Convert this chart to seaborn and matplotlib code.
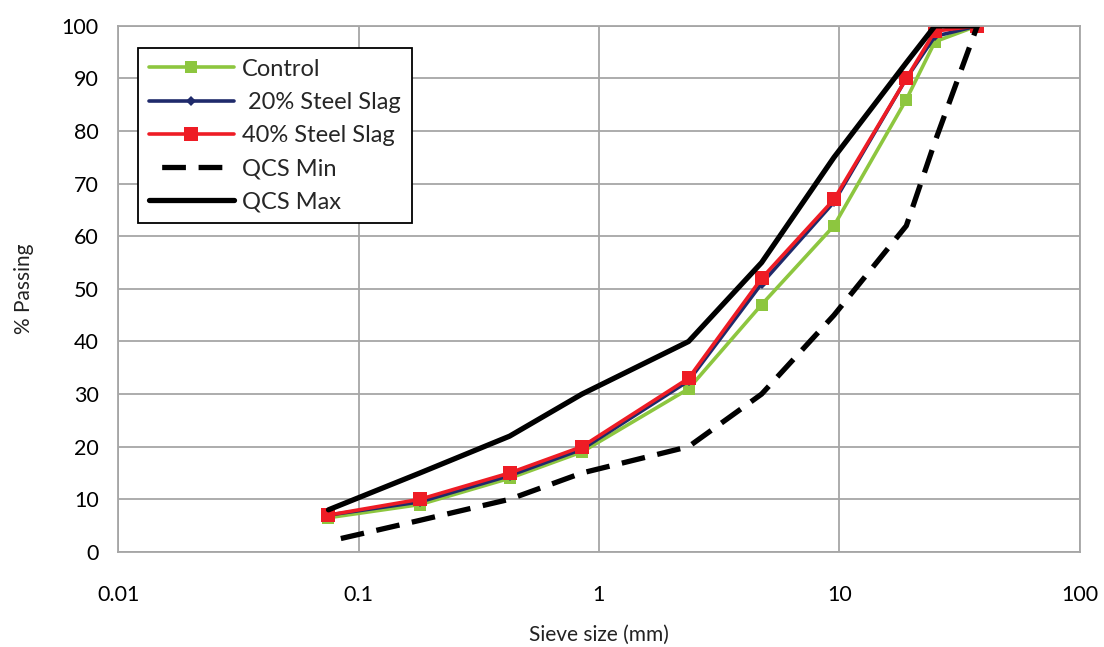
import matplotlib
matplotlib.use("Agg")
import matplotlib.pyplot as plt
import matplotlib.ticker as mticker
import seaborn as sns
import pandas as pd

# Sieve sizes (mm) and percent passing for each gradation
sieve_mm = [0.075, 0.18, 0.425, 0.85, 2.36, 4.75, 9.5, 19, 25, 37.5]
control = [6.5, 9, 14, 19, 31, 47, 62, 86, 97, 100]
slag_20 = [7, 9.5, 14.5, 19.5, 32.5, 51, 66.5, 90, 98, 100]
slag_40 = [7, 10, 15, 20, 33, 52, 67, 90, 99, 100]
qcs_min = [2, 6, 10, 15, 20, 30, 45, 62, 78, 100]
qcs_max = [8, 15, 22, 30, 40, 55, 75, 93, 100, 100]

x_ticks = [0.01, 0.1, 1, 10, 100]
y_ticks = list(range(0, 101, 10))

sns.set_theme(style="whitegrid")
plt.rcParams["font.family"] = ["Lato", "DejaVu Sans"]

fig = plt.figure(figsize=(11.04, 6.47), dpi=100)
ax = fig.add_axes([0.107, 0.147, 0.871, 0.813])

series = [
    ("Control", control, dict(color="#8DC63F", marker="s", markersize=8, linewidth=2.6, linestyle="-")),
    (" 20% Steel Slag", slag_20, dict(color="#1F2A6B", marker="D", markersize=5, linewidth=2.6, linestyle="-")),
    ("40% Steel Slag", slag_40, dict(color="#EE1C25", marker="s", markersize=10, linewidth=2.6, linestyle="-")),
    ("QCS Min", qcs_min, dict(color="black", marker=None, linewidth=3.8, linestyle=(4.5, (4.5, 2.4)))),
    ("QCS Max", qcs_max, dict(color="black", marker=None, linewidth=3.8, linestyle="-")),
]

for label, values, style in series:
    df = pd.DataFrame({"size": sieve_mm, "passing": values})
    sns.lineplot(data=df, x="size", y="passing", ax=ax, label=label,
                 markeredgewidth=0, sort=False, **style)

ax.set_xscale("log")
ax.set_xlim(0.01, 100)
ax.set_ylim(0, 100)
ax.xaxis.set_major_locator(mticker.FixedLocator(x_ticks))
ax.xaxis.set_minor_locator(mticker.NullLocator())
ax.set_xticks(x_ticks)
ax.set_xticklabels(["0.01", "0.1", "1", "10", "100"])
ax.set_yticks(y_ticks)

ax.grid(True, which="major", color="#A6A6A6", linewidth=1.3)
for s in ax.spines.values():
    s.set_color("#A6A6A6")
    s.set_linewidth(1.3)
ax.tick_params(axis="both", length=0, labelsize=15.5, colors="black")
ax.tick_params(axis="y", pad=14)
ax.tick_params(axis="x", pad=24)

ax.set_xlabel("Sieve size (mm)", fontsize=15, labelpad=14, color="#222222")
ax.set_ylabel("% Passing", fontsize=15, labelpad=20, color="#222222")

leg = ax.legend(loc="upper left", bbox_to_anchor=(0.021, 0.958), fontsize=17,
                frameon=True, fancybox=False, framealpha=1, edgecolor="black",
                handlelength=3.6, labelspacing=0.52, borderpad=0.45,
                handletextpad=0.35, borderaxespad=0)
leg.get_frame().set_linewidth(1.3)

fig.savefig("out.png", dpi=100)
